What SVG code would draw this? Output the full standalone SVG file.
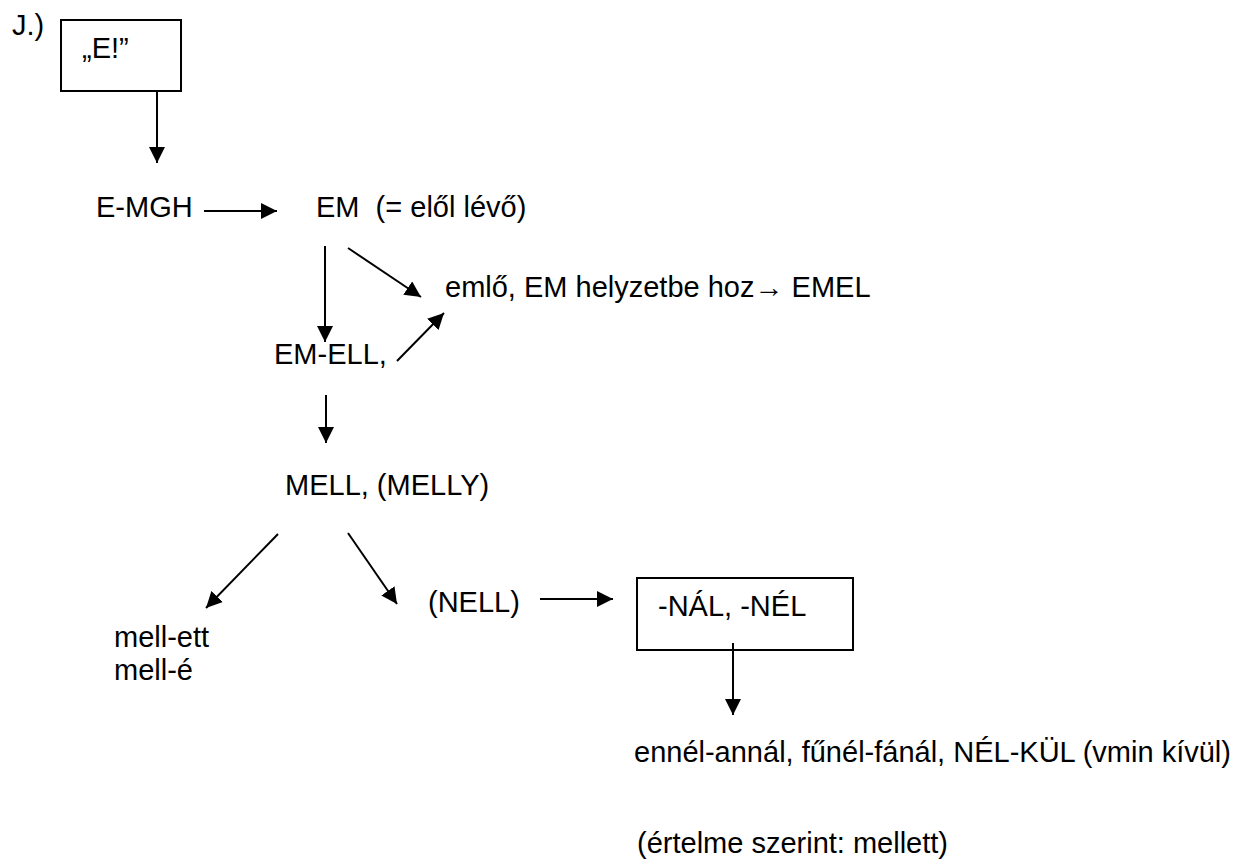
<svg xmlns="http://www.w3.org/2000/svg" width="1251" height="865" viewBox="0 0 1251 865">
  <style>
    text { font-family: "Liberation Sans", Arial, sans-serif; font-size: 29px; fill: #000; white-space: pre; }
    .box { fill: none; stroke: #000; stroke-width: 2; }
    .edge { stroke: #000; stroke-width: 2; fill: none; marker-end: url(#head); }
  </style>
  <defs>
    <marker id="head" markerUnits="userSpaceOnUse" markerWidth="16" markerHeight="16" viewBox="0 0 16 16" refX="16" refY="8" orient="auto">
      <path d="M0,0 L16,8 L0,16 Z" fill="#000"/>
    </marker>
  </defs>

  <text x="12" y="35">J.)</text>

  <g id="node-e">
    <rect class="box" x="61" y="20" width="120" height="71"/>
    <text x="82" y="58">„E!”</text>
  </g>
  <g id="node-emgh"><text x="96" y="217">E-MGH</text></g>
  <g id="node-em"><text x="316" y="217">EM  (= elől lévő)</text></g>
  <g id="node-emlo"><text x="445" y="297">emlő, EM helyzetbe hoz→ EMEL</text></g>
  <g id="node-emell"><text x="274" y="364">EM-ELL,</text></g>
  <g id="node-mell"><text x="285" y="495">MELL, (MELLY)</text></g>
  <g id="node-mellett">
    <text x="114" y="647">mell-ett</text>
    <text x="114" y="680">mell-é</text>
  </g>
  <g id="node-nell"><text x="428" y="612">(NELL)</text></g>
  <g id="node-nal">
    <rect class="box" x="637" y="578" width="216" height="72"/>
    <text x="658" y="616">-NÁL, -NÉL</text>
  </g>
  <g id="node-ennel"><text x="634" y="762">ennél-annál, fűnél-fánál, NÉL-KÜL (vmin kívül)</text></g>
  <g id="node-ertelme"><text x="637" y="853">(értelme szerint: mellett)</text></g>

  <g id="connectors">
    <line class="edge" x1="157" y1="91" x2="157" y2="163"/>
    <line class="edge" x1="204" y1="211" x2="277" y2="211"/>
    <line class="edge" x1="325" y1="246" x2="325" y2="342"/>
    <line class="edge" x1="348" y1="248" x2="421" y2="297"/>
    <line class="edge" x1="397" y1="361" x2="444" y2="313"/>
    <line class="edge" x1="326" y1="395" x2="326" y2="443"/>
    <line class="edge" x1="278" y1="534" x2="206" y2="608"/>
    <line class="edge" x1="348" y1="533" x2="397" y2="604"/>
    <line class="edge" x1="540" y1="599" x2="613" y2="599"/>
    <line class="edge" x1="733" y1="643" x2="733" y2="715"/>
  </g>
</svg>
